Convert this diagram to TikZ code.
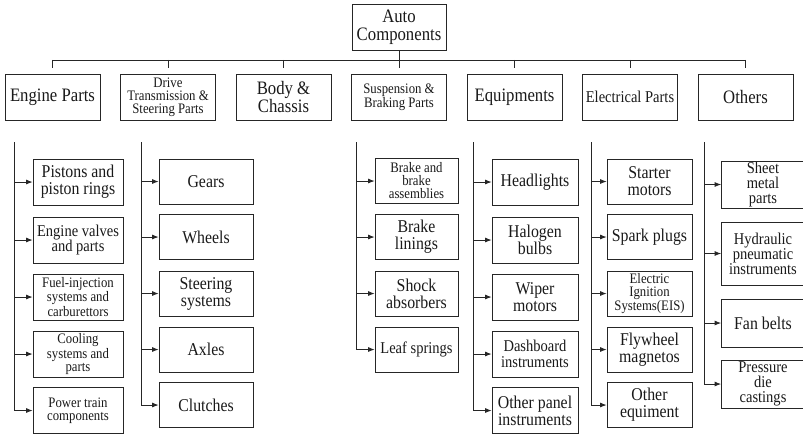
\documentclass[tikz,border=0pt]{standalone}
\usepackage{fontspec}
\setmainfont[FakeStretch=0.88]{Liberation Serif}
\usetikzlibrary{arrows.meta}

\newcommand{\fbig}{\fontsize{19}{18}\selectfont}
\newcommand{\fkid}{\fontsize{18}{17}\selectfont}
\newcommand{\fmid}{\fontsize{16.5}{15.5}\selectfont}
\newcommand{\fsml}{\fontsize{14.5}{13}\selectfont}
\newcommand{\ftri}{\fontsize{16.5}{15}\selectfont}

\tikzset{
  box/.style={draw=black!85, line width=0.8pt, align=center, inner sep=0pt, text=black!90},
  catbox/.style={box, minimum width=95pt, minimum height=46pt},
  ecol/.style={box, minimum width=90pt, minimum height=46pt, font=\fkid},
  dcol/.style={box, minimum width=94pt, minimum height=45pt, font=\fkid},
  scol/.style={box, minimum width=83pt, minimum height=45pt, font=\fkid},
  qcol/.style={box, minimum width=86pt, minimum height=46pt, font=\fkid},
  lcol/.style={box, minimum width=85pt, minimum height=45pt, font=\fkid},
  ocol/.style={box, minimum width=83pt, font=\ftri},
  link/.style={draw=black!85, line width=0.8pt},
  feed/.style={link, -{Latex[length=6.5pt,width=5pt]}}
}

\begin{document}
\begin{tikzpicture}[x=1pt,y=-1pt]
\useasboundingbox (0,0) rectangle (803,434);

\node[box, minimum width=94pt, minimum height=46pt, font=\fbig] (auto) at (399,27) {Auto\\Components};

\node[catbox, font=\fbig] (eng) at (52.5,97) {Engine Parts};
\node[catbox, font=\fsml] (drv) at (168,97) {Drive\\Transmission \&\\Steering Parts};
\node[catbox, font=\fbig] (body) at (283.5,97) {Body \&\\Chassis};
\node[catbox, font=\fsml] (susp) at (399,97) {Suspension \&\\Braking Parts};
\node[catbox, font=\fbig] (equ) at (514.5,97) {Equipments};
\node[catbox, font=\fmid] (elec) at (630,97) {Electrical Parts};
\node[catbox, font=\fbig] (oth) at (745.5,97) {Others};

\draw[link] (auto.south) -- ++(0,9.5) coordinate (bus);
\draw[link] (eng.north |- bus) -- (oth.north |- bus);
\foreach \c in {eng,drv,body,susp,equ,elec,oth}
  \draw[link] (\c.north |- bus) -- ++(0,8.5);

% engine parts
\coordinate (e0) at (14,142);
\node[ecol] (e1) at (78,182) {Pistons and\\piston rings};
\node[ecol, font=\fmid] (e2) at (78,240) {Engine valves\\and parts};
\node[ecol, font=\fsml] (e3) at (78,297) {Fuel-injection\\systems and\\carburettors};
\node[ecol, font=\fsml] (e4) at (78,354) {Cooling\\systems and\\parts};
\node[ecol, font=\fsml] (e5) at (78,410.5) {Power train\\components};

% drive transmission
\coordinate (d0) at (141,142);
\node[dcol] (d1) at (206,181.5) {Gears};
\node[dcol] (d2) at (206,237) {Wheels};
\node[dcol] (d3) at (206,293.5) {Steering\\systems};
\node[dcol] (d4) at (206,349.5) {Axles};
\node[dcol] (d5) at (206,405) {Clutches};

% suspension and braking
\coordinate (s0) at (356,142);
\node[scol, font=\fsml] (s1) at (416.5,181) {Brake and\\brake\\assemblies};
\node[scol] (s2) at (416.5,237) {Brake\\linings};
\node[scol] (s3) at (416.5,293.5) {Shock\\absorbers};
\node[scol, font=\fmid] (s4) at (416.5,349.5) {Leaf springs};

% equipments
\coordinate (q0) at (473,142);
\node[qcol] (q1) at (535,182) {Headlights};
\node[qcol] (q2) at (535,240) {Halogen\\bulbs};
\node[qcol] (q3) at (535,297) {Wiper\\motors};
\node[qcol, font=\fmid] (q4) at (535,354) {Dashboard\\instruments};
\node[qcol] (q5) at (535,410.5) {Other panel\\instruments};

% electrical parts
\coordinate (l0) at (591,142);
\node[lcol] (l1) at (649.5,181.5) {Starter\\motors};
\node[lcol] (l2) at (649.5,237) {Spark plugs};
\node[lcol, font=\fsml] (l3) at (649.5,293.5) {Electric\\Ignition\\Systems(EIS)};
\node[lcol] (l4) at (649.5,349.5) {Flywheel\\magnetos};
\node[lcol] (l5) at (649.5,405) {Other\\equiment};

% others
\coordinate (o0) at (704,142);
\node[ocol, minimum height=47pt] (o1) at (763,184.5) {Sheet\\metal\\parts};
\node[ocol, minimum height=63pt] (o2) at (763,253.5) {Hydraulic\\pneumatic\\instruments};
\node[ocol, minimum height=48pt, font=\fkid] (o3) at (763,323) {Fan belts};
\node[ocol, minimum height=48pt] (o4) at (763,384) {Pressure\\die\\castings};

\foreach \k in {e1,e2,e3,e4} \draw[feed] (e0 |- \k.west) -- (\k.west);
\draw[feed] (e0) |- (e5.west);
\foreach \k in {d1,d2,d3,d4} \draw[feed] (d0 |- \k.west) -- (\k.west);
\draw[feed] (d0) |- (d5.west);
\foreach \k in {s1,s2,s3} \draw[feed] (s0 |- \k.west) -- (\k.west);
\draw[feed] (s0) |- (s4.west);
\foreach \k in {q1,q2,q3,q4} \draw[feed] (q0 |- \k.west) -- (\k.west);
\draw[feed] (q0) |- (q5.west);
\foreach \k in {l1,l2,l3,l4} \draw[feed] (l0 |- \k.west) -- (\k.west);
\draw[feed] (l0) |- (l5.west);
\foreach \k in {o1,o2,o3} \draw[feed] (o0 |- \k.west) -- (\k.west);
\draw[feed] (o0) |- (o4.west);
\end{tikzpicture}
\end{document}
